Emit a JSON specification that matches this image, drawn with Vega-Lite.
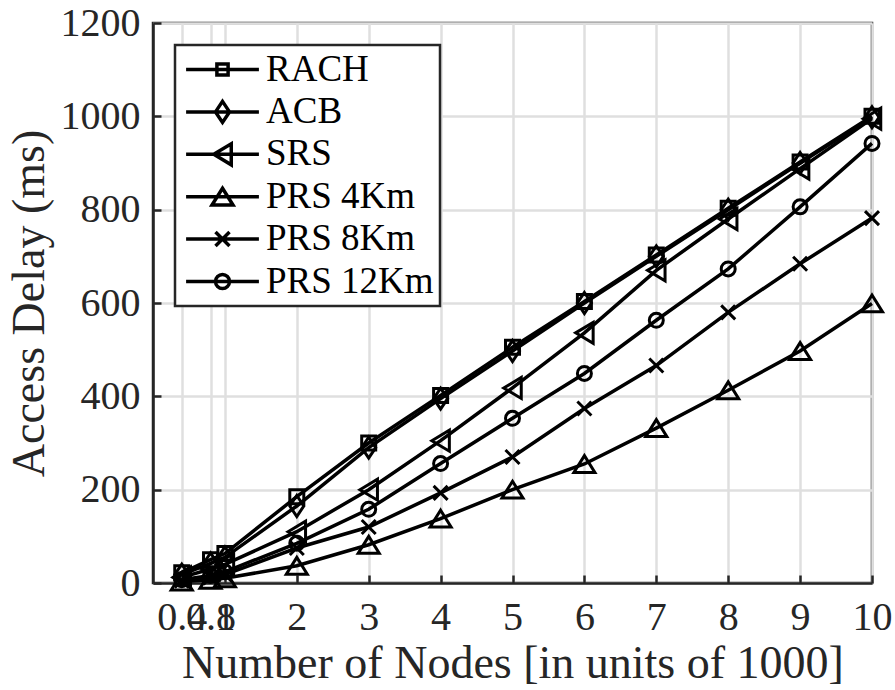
{
  "$schema": "https://vega.github.io/schema/vega-lite/v6.json",
  "width": 719,
  "height": 560,
  "autosize": {"type": "none"},
  "padding": {"left": 153, "top": 23, "right": 23, "bottom": 107},
  "background": "white",
  "config": {
    "view": {"stroke": "#262626", "strokeWidth": 2.5},
    "font": "Liberation Serif",
    "axis": {
      "labelFont": "Liberation Serif",
      "titleFont": "Liberation Serif",
      "labelFontSize": 40,
      "titleFontSize": 46,
      "titleFontWeight": "normal",
      "labelColor": "#262626",
      "titleColor": "#262626",
      "domainColor": "#262626",
      "domainWidth": 2.5,
      "tickColor": "#262626",
      "tickWidth": 2.5,
      "tickSize": -8,
      "gridColor": "#dfdfdf",
      "gridWidth": 2.5,
      "labelOverlap": false,
      "labelBound": false,
      "labelFlush": false
    },
    "legend": {"strokeWidth": 2.5}
  },
  "data": {
    "values": [
      {"series": "RACH", "n": 0.4, "delay": 22}, {"series": "RACH", "n": 0.8, "delay": 50}, {"series": "RACH", "n": 1, "delay": 63},
      {"series": "RACH", "n": 2, "delay": 185}, {"series": "RACH", "n": 3, "delay": 300}, {"series": "RACH", "n": 4, "delay": 402},
      {"series": "RACH", "n": 5, "delay": 505}, {"series": "RACH", "n": 6, "delay": 603}, {"series": "RACH", "n": 7, "delay": 703},
      {"series": "RACH", "n": 8, "delay": 803}, {"series": "RACH", "n": 9, "delay": 902}, {"series": "RACH", "n": 10, "delay": 1000},
      {"series": "ACB", "n": 0.4, "delay": 18}, {"series": "ACB", "n": 0.8, "delay": 42}, {"series": "ACB", "n": 1, "delay": 55},
      {"series": "ACB", "n": 2, "delay": 165}, {"series": "ACB", "n": 3, "delay": 290}, {"series": "ACB", "n": 4, "delay": 395},
      {"series": "ACB", "n": 5, "delay": 497}, {"series": "ACB", "n": 6, "delay": 600}, {"series": "ACB", "n": 7, "delay": 700},
      {"series": "ACB", "n": 8, "delay": 800}, {"series": "ACB", "n": 9, "delay": 900}, {"series": "ACB", "n": 10, "delay": 998},
      {"series": "SRS", "n": 0.4, "delay": 12}, {"series": "SRS", "n": 0.8, "delay": 30}, {"series": "SRS", "n": 1, "delay": 40},
      {"series": "SRS", "n": 2, "delay": 110}, {"series": "SRS", "n": 3, "delay": 200}, {"series": "SRS", "n": 4, "delay": 305},
      {"series": "SRS", "n": 5, "delay": 418}, {"series": "SRS", "n": 6, "delay": 536}, {"series": "SRS", "n": 7, "delay": 670},
      {"series": "SRS", "n": 8, "delay": 780}, {"series": "SRS", "n": 9, "delay": 888}, {"series": "SRS", "n": 10, "delay": 995},
      {"series": "PRS 4Km", "n": 0.4, "delay": 3}, {"series": "PRS 4Km", "n": 0.8, "delay": 7}, {"series": "PRS 4Km", "n": 1, "delay": 10},
      {"series": "PRS 4Km", "n": 2, "delay": 37}, {"series": "PRS 4Km", "n": 3, "delay": 82}, {"series": "PRS 4Km", "n": 4, "delay": 138},
      {"series": "PRS 4Km", "n": 5, "delay": 200}, {"series": "PRS 4Km", "n": 6, "delay": 255}, {"series": "PRS 4Km", "n": 7, "delay": 332},
      {"series": "PRS 4Km", "n": 8, "delay": 413}, {"series": "PRS 4Km", "n": 9, "delay": 497}, {"series": "PRS 4Km", "n": 10, "delay": 599},
      {"series": "PRS 8Km", "n": 0.4, "delay": 5}, {"series": "PRS 8Km", "n": 0.8, "delay": 12}, {"series": "PRS 8Km", "n": 1, "delay": 18},
      {"series": "PRS 8Km", "n": 2, "delay": 75}, {"series": "PRS 8Km", "n": 3, "delay": 120}, {"series": "PRS 8Km", "n": 4, "delay": 193},
      {"series": "PRS 8Km", "n": 5, "delay": 270}, {"series": "PRS 8Km", "n": 6, "delay": 374}, {"series": "PRS 8Km", "n": 7, "delay": 466},
      {"series": "PRS 8Km", "n": 8, "delay": 580}, {"series": "PRS 8Km", "n": 9, "delay": 684}, {"series": "PRS 8Km", "n": 10, "delay": 782},
      {"series": "PRS 12Km", "n": 0.4, "delay": 7}, {"series": "PRS 12Km", "n": 0.8, "delay": 16}, {"series": "PRS 12Km", "n": 1, "delay": 24},
      {"series": "PRS 12Km", "n": 2, "delay": 85}, {"series": "PRS 12Km", "n": 3, "delay": 158}, {"series": "PRS 12Km", "n": 4, "delay": 256},
      {"series": "PRS 12Km", "n": 5, "delay": 353}, {"series": "PRS 12Km", "n": 6, "delay": 449}, {"series": "PRS 12Km", "n": 7, "delay": 563},
      {"series": "PRS 12Km", "n": 8, "delay": 673}, {"series": "PRS 12Km", "n": 9, "delay": 806}, {"series": "PRS 12Km", "n": 10, "delay": 942}
    ]
  },
  "encoding": {
    "x": {
      "field": "n", "type": "quantitative",
      "scale": {"domain": [0, 10], "nice": false},
      "axis": {"values": [0.4, 0.8, 1, 2, 3, 4, 5, 6, 7, 8, 9, 10], "format": ".1~f", "title": "Number of Nodes [in units of 1000]", "labelPadding": 22, "titlePadding": 4}
    },
    "y": {
      "field": "delay", "type": "quantitative",
      "scale": {"domain": [0, 1200], "nice": false},
      "axis": {"values": [0, 200, 400, 600, 800, 1000, 1200], "format": "d", "title": "Access Delay (ms)", "labelPadding": 21, "titlePadding": 7}
    }
  },
  "layer": [
    {
      "mark": {"type": "line", "color": "black", "strokeWidth": 3.5},
      "encoding": {"detail": {"field": "series", "type": "nominal"}}
    },
    {
      "mark": {"type": "point", "filled": false, "stroke": "black", "strokeWidth": 3, "size": 196, "opacity": 1},
      "encoding": {
        "shape": {
          "field": "series", "type": "nominal",
          "scale": {
            "domain": ["RACH", "ACB", "SRS", "PRS 4Km", "PRS 8Km", "PRS 12Km"],
            "range": [
              "M-1,-1H1V1H-1Z",
              "M0,-1.5L1,0L0,1.5L-1,0Z",
              "M-1.25,0L1.25,-1.5L1.25,1.5Z",
              "M0,-1.2L1.5,1.2L-1.5,1.2Z",
              "M-1,-1L1,1M-1,1L1,-1",
              "M-1,0A1,1,0,1,1,1,0A1,1,0,1,1,-1,0Z"
            ]
          },
          "legend": null
        }
      }
    },
    {
      "transform": [{"filter": "datum.delay < 0"}],
      "mark": {"type": "point", "filled": false, "stroke": "black", "strokeWidth": 3, "size": 196, "opacity": 1},
      "encoding": {
        "shape": {
          "field": "series", "type": "nominal",
          "scale": {
            "domain": ["RACH", "ACB", "SRS", "PRS 4Km", "PRS 8Km", "PRS 12Km"],
            "range": [
              "M-5.2,0H5.2M-0.8,-0.8H0.8V0.8H-0.8Z",
              "M-5.2,0H5.2M0,-1.5L1,0L0,1.5L-1,0Z",
              "M-5.2,0H5.2M-1.25,0L1.25,-1.5L1.25,1.5Z",
              "M-5.2,0H5.2M0,-1.2L1.5,1.2L-1.5,1.2Z",
              "M-5.2,0H5.2M-1,-1L1,1M-1,1L1,-1",
              "M-5.2,0H5.2M-1,0A1,1,0,1,1,1,0A1,1,0,1,1,-1,0Z"
            ]
          },
          "legend": {
            "title": null,
            "orient": "none",
            "legendX": 22,
            "legendY": 22,
            "fillColor": "white",
            "strokeColor": "#262626",
            "padding": 6,
            "rowPadding": 4.4,
            "symbolSize": 196,
            "symbolStrokeColor": "black",
            "symbolStrokeWidth": 3.5,
            "symbolFillColor": "transparent",
            "symbolOffset": 23,
            "labelOffset": 25,
            "labelLimit": 400,
            "labelFont": "Liberation Serif",
            "labelFontSize": 37,
            "labelColor": "black"
          }
        }
      }
    }
  ],
  "resolve": {"scale": {"shape": "independent"}}
}
